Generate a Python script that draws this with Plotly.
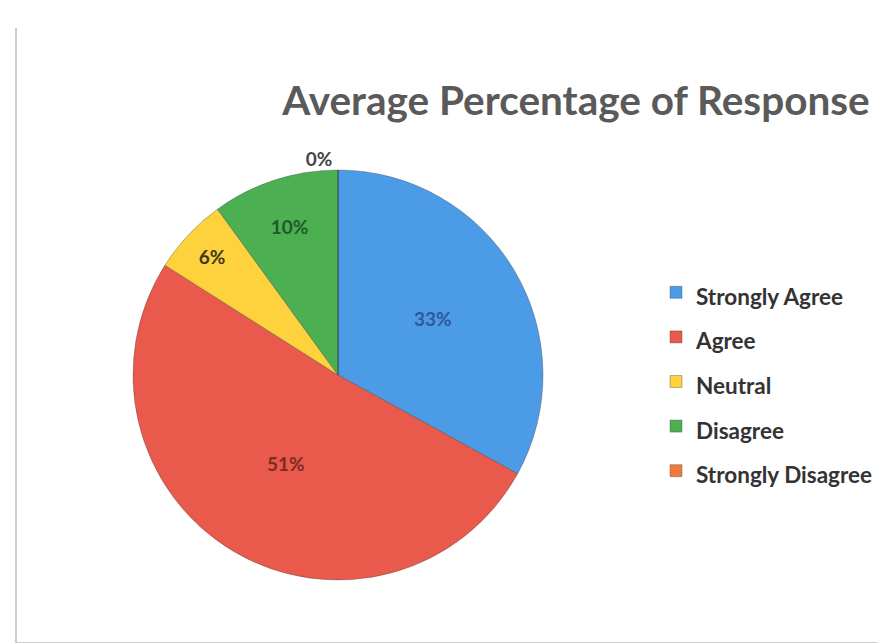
import plotly.graph_objects as go

categories = ["Strongly Agree", "Agree", "Neutral", "Disagree", "Strongly Disagree"]
values = [33, 51, 6, 10, 0]
slice_colors = ["#4b9be6", "#e9594c", "#fdd23c", "#4caf52", "#ef7a3f"]
label_colors = ["#2d5a96", "#7e2b22", "#3c3a1c", "#1f5a28", "#444444"]
text_positions = ["inside", "inside", "inside", "inside", "outside"]

W, H = 885, 643
legend_labels = [f"<span style='font-size:22.5px'>{c}</span>" for c in categories]

fig = go.Figure(go.Pie(
    labels=legend_labels,
    values=values,
    sort=False,
    direction="clockwise",
    rotation=0,
    marker=dict(colors=slice_colors, line=dict(color="rgba(60,60,60,0.35)", width=1)),
    texttemplate="%{percent:.0%}",
    textposition=text_positions,
    insidetextorientation="horizontal",
    textfont=dict(family="Lato", size=19, color=label_colors, weight="bold"),
    domain=dict(x=[125 / W, 535 / W], y=[(H - 572) / H, (H - 162) / H]),
    hoverinfo="label+percent",
))

fig.update_layout(
    width=W, height=H,
    margin=dict(l=0, r=0, t=0, b=0),
    paper_bgcolor="white",
    title=dict(text="Average Percentage of Response", x=568 / W, y=1 - 93 / H,
               xanchor="center", yanchor="middle",
               font=dict(family="Lato", size=40.5, color="#5a5a5a", weight="bold")),
    legend=dict(x=648 / W, y=1 - 257 / H, xanchor="left", yanchor="top",
                font=dict(family="Lato", size=32, color="#333333", weight="bold"),
                bgcolor="rgba(0,0,0,0)"),
    shapes=[
        dict(type="line", xref="paper", yref="paper", x0=8 / W, x1=8 / W, y0=1 - 635 / H, y1=1 - 20 / H,
             line=dict(color="#9a9a9a", width=1)),
        dict(type="line", xref="paper", yref="paper", x0=8 / W, x1=1, y0=1 - 635 / H, y1=1 - 635 / H,
             line=dict(color="#9a9a9a", width=1)),
    ],
)

fig.write_html("out.html")
